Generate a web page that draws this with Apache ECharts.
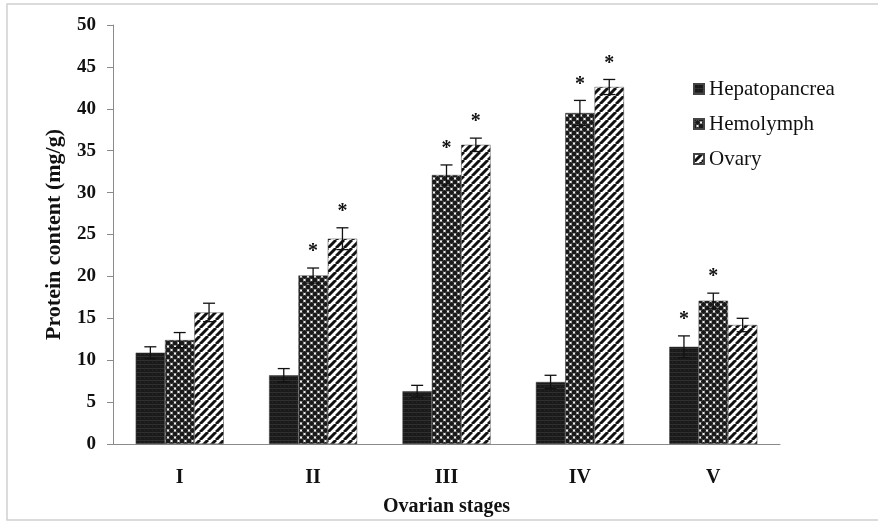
<!DOCTYPE html>
<html>
<head>
<meta charset="utf-8">
<script src="https://cdn.jsdelivr.net/npm/echarts@6/dist/echarts.min.js"></script>
<style>
  html, body { margin: 0; padding: 0; background: #fff; }
  #chart { width: 878px; height: 524px; }
</style>
</head>
<body>
<div id="chart"></div>
<script>
// Ovarian stages and protein content (mg/g) per tissue, mean ± SE
const categories = ['I', 'II', 'III', 'IV', 'V'];
const seriesNames = ['Hepatopancrea', 'Hemolymph', 'Ovary'];

const hepatopancrea = [10.9, 8.2, 6.3, 7.4, 11.6];
const hemolymph     = [12.4, 20.1, 32.1, 39.5, 17.1];
const ovary         = [15.7, 24.5, 35.7, 42.6, 14.2];

const hepatopancreaErr = [0.7, 0.8, 0.7, 0.8, 1.3];
const hemolymphErr     = [0.9, 0.9, 1.2, 1.5, 0.9];
const ovaryErr         = [1.1, 1.3, 0.8, 0.9, 0.8];

// 1 = significant difference (asterisk)
const hepatopancreaSig = [0, 0, 0, 0, 1];
const hemolymphSig     = [0, 1, 1, 1, 1];
const ovarySig         = [0, 1, 1, 1, 0];

const yTicks = { min: 0, max: 50, interval: 5 };

const FONT = "'Liberation Serif', 'Times New Roman', serif";

// ---- fill patterns ----
function makeTile(w, h, draw) {
  const c = document.createElement('canvas');
  c.width = w; c.height = h;
  draw(c.getContext('2d'), w, h);
  return c;
}
const solidTile = makeTile(4, 4, (g, w, h) => {
  g.fillStyle = '#1a1a1a'; g.fillRect(0, 0, w, h);
  g.fillStyle = '#303030'; g.fillRect(0, 0, w, 1);
  g.fillStyle = '#282828'; g.fillRect(0, 2, 1, 1);
});
const dotTile = makeTile(7, 7, (g, w, h) => {
  g.fillStyle = '#f2f2f2'; g.fillRect(0, 0, w, h);
  g.fillStyle = '#1a1a1a';
  [[0, 0], [w, 0], [0, h], [w, h], [w / 2, h / 2]].forEach(([x, y]) => {
    g.beginPath(); g.arc(x, y, 2.5, 0, Math.PI * 2); g.fill();
  });
});
const stripeTile = makeTile(8, 8, (g, w, h) => {
  g.fillStyle = '#ffffff'; g.fillRect(0, 0, w, h);
  g.strokeStyle = '#111'; g.lineWidth = 3;
  [[-w, 0], [0, 0], [w, 0]].forEach(([ox]) => {
    g.beginPath(); g.moveTo(ox, h); g.lineTo(ox + w, 0); g.stroke();
  });
});
const fills = [solidTile, dotTile, stripeTile].map(t => ({ image: t, repeat: 'repeat' }));

const values = [hepatopancrea, hemolymph, ovary];
const errs = [hepatopancreaErr, hemolymphErr, ovaryErr];
const sigs = [hepatopancreaSig, hemolymphSig, ovarySig];

const CAT_GAP = 0.34;

// rows for the error-bar layer: [category, series, mean, err, sig]
const errRows = [];
categories.forEach((_, i) => {
  values.forEach((arr, s) => errRows.push([i, s, arr[i], errs[s][i], sigs[s][i]]));
});

const chart = echarts.init(document.getElementById('chart'));

const barSeries = seriesNames.map((name, s) => ({
  name,
  type: 'bar',
  data: values[s],
  barGap: '0%',
  barCategoryGap: (CAT_GAP * 100) + '%',
  itemStyle: { color: fills[s], borderColor: '#444', borderWidth: 0.5 },
  emphasis: { disabled: true }
}));

chart.setOption({
  animation: false,
  backgroundColor: '#fff',
  graphic: [{
    type: 'rect',
    shape: { x: 7, y: 4, width: 900, height: 516 },
    style: { fill: 'none', stroke: '#cfcfcf', lineWidth: 1.5 },
    silent: true, z: -10
  }],
  grid: { left: 113, top: 25, right: 98, bottom: 80 },
  legend: {
    data: seriesNames,
    orient: 'vertical',
    left: 693,
    top: 78,
    padding: 0,
    itemWidth: 10,
    itemHeight: 10,
    itemGap: 13,
    icon: 'rect',
    textStyle: { fontFamily: FONT, fontSize: 21, color: '#111', lineHeight: 22 },
    selectedMode: false
  },
  xAxis: {
    type: 'category',
    data: categories,
    name: 'Ovarian stages',
    nameLocation: 'middle',
    nameGap: 53,
    nameTextStyle: { fontFamily: FONT, fontWeight: 'bold', fontSize: 20, color: '#111' },
    axisLine: { lineStyle: { color: '#8a8a8a', width: 1 } },
    axisTick: { length: 6, lineStyle: { color: '#8a8a8a' } },
    axisLabel: { fontFamily: FONT, fontWeight: 'bold', fontSize: 20, color: '#111', margin: 24 }
  },
  yAxis: {
    type: 'value',
    min: yTicks.min, max: yTicks.max, interval: yTicks.interval,
    name: 'Protein content (mg/g)',
    nameLocation: 'middle',
    nameGap: 48,
    nameTextStyle: { fontFamily: FONT, fontWeight: 'bold', fontSize: 22, color: '#111' },
    axisLine: { show: true, lineStyle: { color: '#8a8a8a', width: 1 } },
    axisTick: { show: true, length: 6, lineStyle: { color: '#8a8a8a' } },
    splitLine: { show: false },
    axisLabel: { fontFamily: FONT, fontWeight: 'bold', fontSize: 19, color: '#111', margin: 17 }
  },
  series: [
    ...barSeries,
    {
      type: 'custom',
      name: 'errors',
      data: errRows,
      encode: { x: 0, y: 2 },
      z: 5,
      silent: true,
      renderItem(params, api) {
        const cat = api.value(0);
        const s = api.value(1);
        const v = api.value(2);
        const e = api.value(3);
        const sig = api.value(4);
        const band = api.size([1, 0])[0];
        const bw = band * (1 - CAT_GAP) / 3;
        const cx = api.coord([cat, 0])[0] + (s - 1) * bw;
        const yTop = api.coord([cat, v + e])[1];
        const yBot = api.coord([cat, v - e])[1];
        const cap = 6;
        const st = { stroke: '#111', lineWidth: 1.3 };
        const children = [
          { type: 'line', shape: { x1: cx, y1: yTop, x2: cx, y2: yBot }, style: st },
          { type: 'line', shape: { x1: cx - cap, y1: yTop, x2: cx + cap, y2: yTop }, style: st },
          { type: 'line', shape: { x1: cx - cap, y1: yBot, x2: cx + cap, y2: yBot }, style: st }
        ];
        if (sig) {
          children.push({
            type: 'text',
            style: {
              text: '*', x: cx, y: yTop - 6,
              align: 'center', verticalAlign: 'bottom',
              font: 'bold 20px ' + FONT, fill: '#111'
            }
          });
        }
        return { type: 'group', children };
      }
    }
  ]
});
</script>
</body>
</html>
